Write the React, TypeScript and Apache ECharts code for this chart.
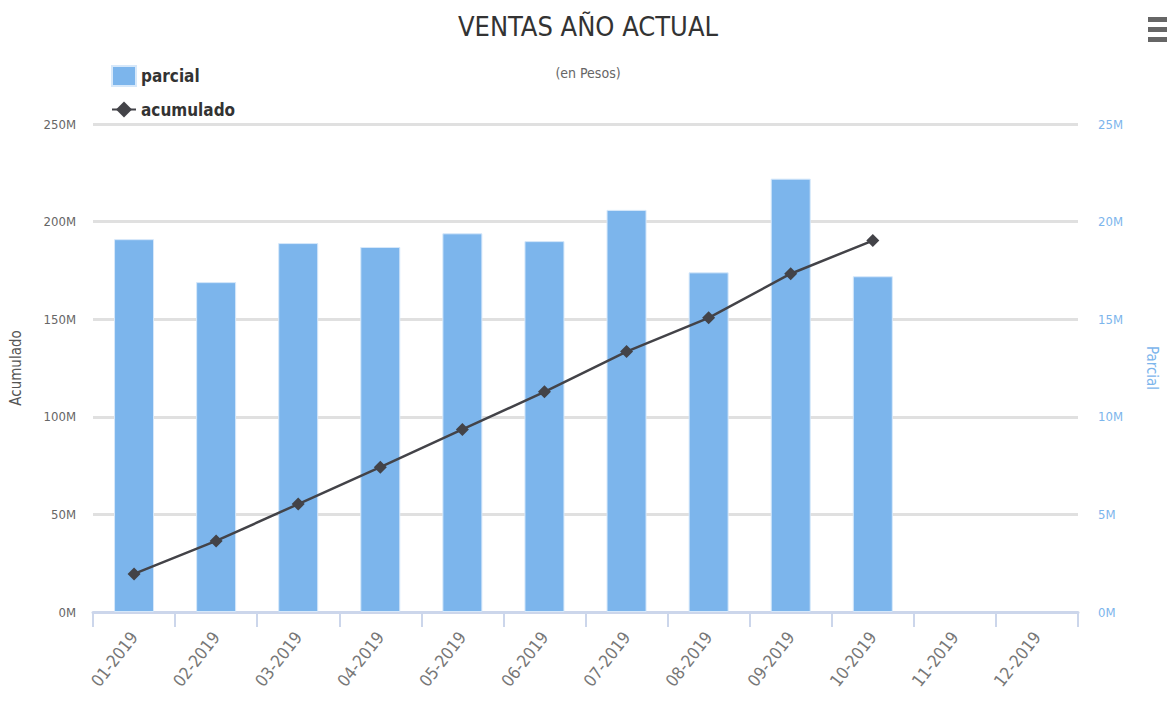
import React, { useEffect, useRef } from "react";
import * as echarts from "echarts";

const categories = ["01-2019", "02-2019", "03-2019", "04-2019", "05-2019", "06-2019", "07-2019", "08-2019", "09-2019", "10-2019", "11-2019", "12-2019"];
const parcial = [19.1, 16.9, 18.9, 18.7, 19.4, 19.0, 20.6, 17.4, 22.2, 17.2, null, null];
const acumulado = [19.5, 36.4, 55.3, 74.2, 93.5, 112.8, 133.4, 150.7, 173.3, 190.3, null, null];
const leftTicks = { min: 0, max: 250, interval: 50 };
const rightTicks = { min: 0, max: 25, interval: 5 };

const FONT = "'Liberation Sans Narrow', 'DejaVu Sans Condensed', 'Liberation Sans', sans-serif";

export default function App() {
  const ref = useRef<HTMLDivElement>(null);
  useEffect(() => {
    if (!ref.current) return;
    const chart = echarts.init(ref.current, null, { renderer: "svg" });
    chart.setOption({
      animation: false,
      backgroundColor: "#ffffff",
      textStyle: { fontFamily: FONT },
      title: {
        text: "VENTAS AÑO ACTUAL",
        subtext: "(en Pesos)",
        left: 583,
        textAlign: "center",
        top: 8,
        itemGap: 26,
        textStyle: { fontSize: 27, fontWeight: "normal", color: "#333333", fontFamily: FONT },
        subtextStyle: { fontSize: 14, color: "#666666", fontFamily: FONT },
      },
      legend: {
        orient: "vertical",
        left: 106,
        top: 60,
        itemWidth: 24,
        itemHeight: 20,
        itemGap: 14,
        textStyle: { fontSize: 17, fontWeight: "bold", color: "#333333", fontFamily: FONT },
        data: [{ name: "parcial", icon: "rect" }, { name: "acumulado" }],
      },
      grid: { left: 87, right: 79, top: 124, bottom: 96, containLabel: false },
      xAxis: {
        type: "category",
        data: categories,
        axisLine: { lineStyle: { color: "#ccd6eb", width: 3 } },
        axisTick: { show: true, length: 15, lineStyle: { color: "#ccd6eb", width: 2 } },
        axisLabel: { rotate: 52, color: "#777777", fontSize: 17, margin: 22, fontFamily: FONT },
      },
      yAxis: [
        {
          type: "value",
          position: "left",
          ...leftTicks,
          name: "Acumulado",
          nameLocation: "middle",
          nameGap: 70,
          nameTextStyle: { color: "#555555", fontSize: 15, fontFamily: FONT },
          axisLabel: { formatter: "{value}M", color: "#666666", fontSize: 13, margin: 17, fontFamily: FONT },
          splitLine: { lineStyle: { color: "#e0e0e0", width: 3 } },
          axisLine: { show: false },
          axisTick: { show: false },
        },
        {
          type: "value",
          position: "right",
          ...rightTicks,
          name: "Parcial",
          nameLocation: "middle",
          nameRotate: -90,
          nameGap: 66,
          nameTextStyle: { color: "#7cb5ec", fontSize: 15, fontFamily: FONT },
          axisLabel: { formatter: "{value}M", color: "#7cb5ec", fontSize: 13, margin: 20, fontFamily: FONT },
          splitLine: { show: false },
          axisLine: { show: false },
          axisTick: { show: false },
        },
      ],
      series: [
        {
          name: "parcial",
          type: "bar",
          yAxisIndex: 1,
          data: parcial,
          barWidth: 40,
          itemStyle: { color: "#7cb5ec", borderColor: "#d6e8fa", borderWidth: 1 },
        },
        {
          name: "acumulado",
          type: "line",
          yAxisIndex: 0,
          data: acumulado,
          symbol: "diamond",
          symbolSize: 13,
          itemStyle: { color: "#434348" },
          lineStyle: { color: "#434348", width: 2.5 },
        },
      ],
      graphic: [
        { type: "rect", shape: { x: 1148, y: 17, width: 19, height: 5 }, style: { fill: "#666666" } },
        { type: "rect", shape: { x: 1148, y: 27, width: 19, height: 5 }, style: { fill: "#666666" } },
        { type: "rect", shape: { x: 1148, y: 37, width: 19, height: 5 }, style: { fill: "#666666" } },
      ],
    });
    return () => chart.dispose();
  }, []);
  return <div ref={ref} style={{ position: "fixed", left: 0, top: 0, width: 1167, height: 708 }} />;
}
